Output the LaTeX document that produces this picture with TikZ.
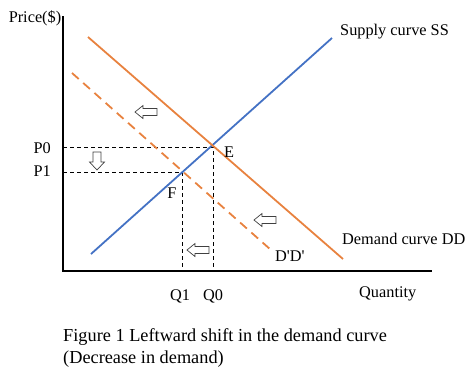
\documentclass[tikz,border=0pt]{standalone}
\usepackage{fontspec}
\setmainfont{Liberation Serif}
\newfontfamily\rawserif{Liberation Serif}[Ligatures=TeXOff]
\definecolor{dorange}{HTML}{E8823F}
\definecolor{sblue}{HTML}{4472C4}
\begin{document}
\begin{tikzpicture}[x=1pt,y=-1pt,
  lbl/.style={inner sep=0pt,font=\fontsize{16.3}{19}\selectfont},
  guide/.style={black,dashed,line width=1pt,dash pattern=on 4pt off 3pt},
  hollowline/.style={draw=black!75,fill=white,line width=0.7pt,line join=miter},
  leftarrow/.pic={\path[hollowline] (-11,0) -- (-3,-6.5) -- (-3,-3.5) -- (11,-3.5) -- (11,3.5) -- (-3,3.5) -- (-3,6.5) -- cycle;},
  downarrow/.pic={\path[hollowline] (0,9) -- (-7.5,1) -- (-4,1) -- (-4,-9) -- (4,-9) -- (4,1) -- (7.5,1) -- cycle;}]
\useasboundingbox (0,0) rectangle (472,381);
% axes
\coordinate (O) at (63,271);
\coordinate (ytop) at (63,16);
\coordinate (xend) at (432,271);
\draw[line width=1.3pt] (ytop) -- (O) -- (xend);
% points
\coordinate (E) at (213,147);
\coordinate (F) at (182,172);
\coordinate (p0) at (63,147);
\coordinate (p1) at (63,172);
\coordinate (q0) at (213,271);
\coordinate (q1) at (182,271);
% guides
\draw[guide] (p0) -- (E) -- (q0);
\draw[guide] (p1) -- (F) -- (q1);
% curves
\coordinate (s1) at (91,254); \coordinate (s2) at (332,38);
\coordinate (d1) at (88,37); \coordinate (d2) at (343,259);
\coordinate (e1) at (72,73); \coordinate (e2) at (271,250);
\draw[sblue,line width=1.8pt] (s1) -- (s2);
\draw[dorange,line width=1.8pt] (d1) -- (d2);
\draw[dorange,line width=1.8pt,dash pattern=on 9pt off 6pt] (e1) -- (e2);
% labels
\node[lbl,anchor=south] (price) at (35,26) {Price(\$)};
\node[lbl,anchor=east] (lp0) at (51,148) {P0};
\node[lbl,anchor=east] (lp1) at (51,171) {P1};
\node[lbl] (lE) at (229,152) {E};
\node[lbl] (lF) at (172,193) {F};
\node[lbl] (lq1) at (180,296) {Q1};
\node[lbl] (lq0) at (213,296) {Q0};
\node[lbl,anchor=west] (lqty) at (359,294) {Quantity};
\node[lbl,anchor=west] (lss) at (340,32) {Supply curve SS};
\node[lbl,anchor=west] (ldd) at (342,239) {Demand curve DD};
\node[lbl,anchor=west] (ldd2) at (275,256) {\rawserif D'D'};
\node[inner sep=0pt,anchor=base west,align=left,font=\fontsize{18.3}{21.3}\selectfont] (cap) at (63,363) {Figure 1 Leftward shift in the demand curve\\(Decrease in demand)};
% hollow arrows
\pic at (146,112) {leftarrow};
\pic at (265,220) {leftarrow};
\pic at (198,250) {leftarrow};
\pic at (97,161) {downarrow};
\end{tikzpicture}
\end{document}
